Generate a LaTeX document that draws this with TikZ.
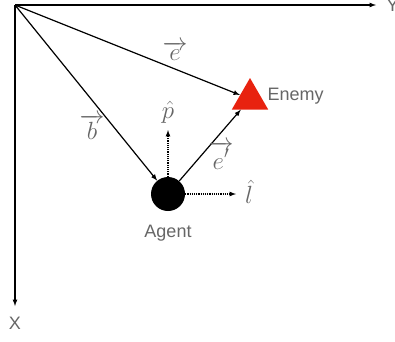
\documentclass[tikz,border=0pt]{standalone}
\usepackage{fontspec}
\setsansfont{Liberation Sans}
\usetikzlibrary{shapes.geometric}
\definecolor{labelgray}{HTML}{666666}
\definecolor{enemyred}{HTML}{E8220F}
\tikzset{
  vec/.style={->,line width=1.2pt},
  unitvec/.style={->,line width=1.2pt,densely dotted},
  namelabel/.style={text=labelgray,font=\sffamily\fontsize{18}{20}\selectfont},
  veclabel/.style={text=labelgray,font=\fontsize{26}{28}\selectfont}
}
\begin{document}
\begin{tikzpicture}[x=1pt,y=-1pt,>=latex]
\useasboundingbox (0,0) rectangle (395,341);
% axes
\coordinate (O) at (15,5);
\node[namelabel,anchor=west] (ylab) at (383,5) {Y};
\node[namelabel] (xlab) at (15,323) {X};
\draw[vec] (O) -- (376,5);
\draw[vec] (O) -- (15,306);

% agent and enemy
\node[circle,fill=black,minimum size=34pt,inner sep=0pt] (agent) at (168,194) {};
\node[regular polygon,regular polygon sides=3,fill=enemyred,minimum size=42pt,inner sep=0pt] (enemy) at (250,99) {};
\node[namelabel] (agentlab) at (168,233) {Agent};
\node[namelabel,anchor=west] (enemylab) at (264,96) {Enemy};

\draw[vec] (O) -- (enemy);
\draw[vec] (O) -- (agent);
\draw[vec] (agent) -- (enemy);

\coordinate (ptip) at (168,130);
\coordinate (ltip) at (236,194);
\draw[unitvec] (agent) -- (ptip);
\draw[unitvec] (agent) -- (ltip);

\node[veclabel] (elab) at (175,51) {$\overrightarrow{e}$};
\node[veclabel] (blab) at (92,127) {$\overrightarrow{b}$};
\node[veclabel] (eplab) at (221,155) {$\overrightarrow{e'}$};
\node[veclabel] (plab) at (168,112) {$\hat{p}$};
\node[veclabel] (llab) at (249,192) {$\hat{l}$};
\end{tikzpicture}
\end{document}
